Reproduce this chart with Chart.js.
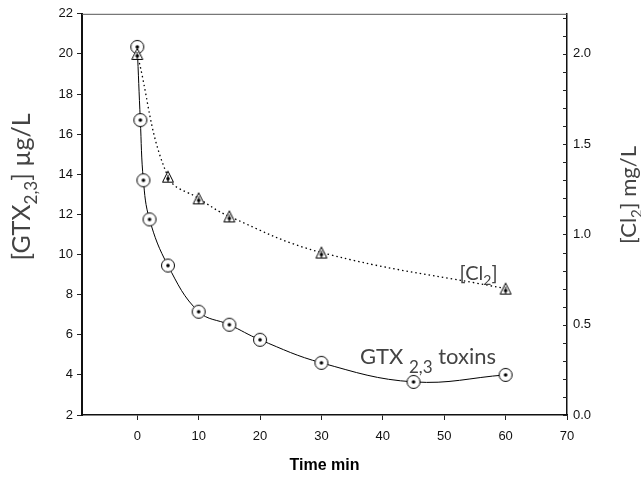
<!DOCTYPE html>
<html>
<head>
<meta charset="utf-8">
<script src="https://cdn.jsdelivr.net/npm/chart.js@4/dist/chart.umd.min.js"></script>
<style>
  html, body { margin: 0; padding: 0; background: #fff; }
  #chart { display: block; }
</style>
</head>
<body>
<canvas id="chart" width="641" height="488"></canvas>
<script>
// GTX2,3 decay and chlorine residual vs. time

const gtxTimes = [0, 0.5, 1, 2, 5, 10, 15, 20, 30, 45, 60];
const gtxValues = [20.35, 16.7, 13.7, 11.75, 9.45, 7.15, 6.5, 5.75, 4.6, 3.65, 4.0];

const cl2Times = [0, 5, 10, 15, 30, 60];
const cl2Values = [2.0, 1.32, 1.2, 1.1, 0.9, 0.7];

const xTicks = [0, 10, 20, 30, 40, 50, 60, 70];
const leftTicks = [2, 4, 6, 8, 10, 12, 14, 16, 18, 20, 22];
const rightLabels = [0.0, 0.5, 1.0, 1.5, 2.0];

const TICK_FONT = { family: "Liberation Sans, Arial, sans-serif", size: 13 };
const LABEL_FONT = "Lato, 'Open Sans', sans-serif";

function makeMarker(kind) {
  const c = document.createElement("canvas");
  c.width = 16;
  c.height = 16;
  const g = c.getContext("2d");
  g.strokeStyle = "#000";
  g.fillStyle = "#fff";
  g.lineWidth = 1;
  if (kind === "circle") {
    g.beginPath();
    g.arc(8, 8, 6.5, 0, Math.PI * 2);
    g.fill();
    g.stroke();
    g.fillStyle = "#000";
    g.beginPath();
    g.arc(8, 8, 1.8, 0, Math.PI * 2);
    g.fill();
  } else {
    g.beginPath();
    g.moveTo(8, 2.5);
    g.lineTo(13.5, 13.5);
    g.lineTo(2.5, 13.5);
    g.closePath();
    g.fill();
    g.stroke();
    g.beginPath();
    g.moveTo(8, 6);
    g.lineTo(8, 13.5);
    g.stroke();
    g.fillStyle = "#000";
    g.beginPath();
    g.arc(8, 10, 1.8, 0, Math.PI * 2);
    g.fill();
  }
  return c;
}

function toPoints(xs, ys) {
  return xs.map((x, i) => ({ x, y: ys[i] }));
}

// text made of runs, some of them subscript
function drawRuns(ctx, runs, size, subSize, subDrop) {
  let w = 0;
  runs.forEach((r) => {
    ctx.font = `${r.sub ? subSize : size}px ${LABEL_FONT}`;
    r.w = ctx.measureText(r.t).width;
    w += r.w;
  });
  return {
    width: w,
    draw(x, y) {
      let cx = x;
      runs.forEach((r) => {
        ctx.font = `${r.sub ? subSize : size}px ${LABEL_FONT}`;
        ctx.fillText(r.t, cx, r.sub ? y + subDrop : y);
        cx += r.w;
      });
    },
  };
}

const decorPlugin = {
  id: "decor",
  afterDraw(chart) {
    const ctx = chart.ctx;
    const area = chart.chartArea;
    const x = chart.scales.x;
    const y = chart.scales.y;
    const y2 = chart.scales.y2;

    ctx.save();

    // top frame line
    ctx.strokeStyle = "#555";
    ctx.lineWidth = 1;
    ctx.beginPath();
    ctx.moveTo(area.left, area.top + 0.5);
    ctx.lineTo(area.right, area.top + 0.5);
    ctx.stroke();

    // inward ticks on the right axis
    ctx.strokeStyle = "#222";
    y2.ticks.forEach((t) => {
      const py = Math.round(y2.getPixelForValue(t.value)) + 0.5;
      ctx.beginPath();
      ctx.moveTo(area.right - 4, py);
      ctx.lineTo(area.right, py);
      ctx.stroke();
    });

    ctx.fillStyle = "#444";
    ctx.textBaseline = "alphabetic";

    // left axis title
    const leftTitle = drawRuns(ctx, [
      { t: "[GTX" }, { t: "2,3", sub: true }, { t: "] \u00b5g/L" },
    ], 25, 17, 7);
    ctx.save();
    ctx.translate(30, 187);
    ctx.rotate(-Math.PI / 2);
    leftTitle.draw(-leftTitle.width / 2, 0);
    ctx.restore();

    // right axis title
    const rightTitle = drawRuns(ctx, [
      { t: "[Cl" }, { t: "2", sub: true }, { t: "] mg/L" },
    ], 22, 15, 6);
    ctx.save();
    ctx.translate(636, 195);
    ctx.rotate(-Math.PI / 2);
    rightTitle.draw(-rightTitle.width / 2, 0);
    ctx.restore();

    // series labels inside the plot
    const clLabel = drawRuns(ctx, [
      { t: "[Cl" }, { t: "2", sub: true }, { t: "]" },
    ], 20, 14, 5);
    clLabel.draw(x.getPixelForValue(52.5), y2.getPixelForValue(0.745));

    const gtxLabel = drawRuns(ctx, [
      { t: "GTX " }, { t: "2,3", sub: true }, { t: " toxins" },
    ], 22, 17, 9);
    gtxLabel.draw(x.getPixelForValue(36.3), y.getPixelForValue(4.55));

    // x axis title
    ctx.fillStyle = "#000";
    ctx.font = "bold 16px Liberation Sans, Arial, sans-serif";
    ctx.textAlign = "center";
    ctx.fillText("Time min", (area.left + area.right) / 2, 470);

    ctx.restore();
  },
};

const ctx = document.getElementById("chart");

new Chart(ctx, {
  type: "line",
  data: {
    datasets: [
      {
        label: "Cl2",
        data: toPoints(cl2Times, cl2Values),
        yAxisID: "y2",
        borderColor: "#000",
        borderWidth: 1.3,
        borderDash: [1.5, 3],
        tension: 0.4,
        pointStyle: makeMarker("triangle"),
        pointRadius: 6,
      },
      {
        label: "GTX2,3",
        data: toPoints(gtxTimes, gtxValues),
        yAxisID: "y",
        borderColor: "#000",
        borderWidth: 1,
        tension: 0.4,
        pointStyle: makeMarker("circle"),
        pointRadius: 7,
      },
    ],
  },
  options: {
    responsive: false,
    animation: false,
    layout: {
      padding: { top: 12, right: 0, bottom: 0, left: 0 },
    },
    plugins: {
      legend: { display: false },
      tooltip: { enabled: false },
    },
    scales: {
      x: {
        type: "linear",
        position: "bottom",
        min: -9,
        max: 70,
        afterBuildTicks: (scale) => {
          scale.ticks = xTicks.map((v) => ({ value: v }));
        },
        afterFit: (scale) => {
          scale.height = 73;
        },
        border: { display: true, color: "#111", width: 1.5 },
        grid: {
          drawOnChartArea: false,
          drawTicks: true,
          tickLength: 5,
          tickColor: "#222",
        },
        ticks: {
          autoSkip: false,
          maxRotation: 0,
          color: "#111",
          padding: 9,
          font: TICK_FONT,
        },
      },
      y: {
        type: "linear",
        position: "left",
        min: 2,
        max: 22,
        afterBuildTicks: (scale) => {
          scale.ticks = leftTicks.map((v) => ({ value: v }));
        },
        afterFit: (scale) => {
          scale.width = 82;
        },
        border: { display: true, color: "#111", width: 2 },
        grid: {
          drawOnChartArea: false,
          drawTicks: true,
          tickLength: 5,
          tickColor: "#222",
        },
        ticks: {
          autoSkip: false,
          color: "#111",
          padding: 4,
          font: TICK_FONT,
        },
      },
      y2: {
        type: "linear",
        position: "right",
        min: 0,
        max: 2.0 * 20 / 18,
        afterBuildTicks: (scale) => {
          const ticks = [];
          for (let i = 0; i <= 22; i += 1) ticks.push({ value: i / 10 });
          scale.ticks = ticks;
        },
        afterFit: (scale) => {
          scale.width = 74;
        },
        border: { display: true, color: "#111", width: 1.5 },
        grid: { display: false, drawTicks: false },
        ticks: {
          autoSkip: false,
          color: "#111",
          padding: 6,
          font: TICK_FONT,
          callback: (value) => {
            const hit = rightLabels.find((v) => Math.abs(v - value) < 1e-6);
            return hit === undefined ? "" : hit.toFixed(1);
          },
        },
      },
    },
  },
  plugins: [decorPlugin],
});
</script>
</body>
</html>
